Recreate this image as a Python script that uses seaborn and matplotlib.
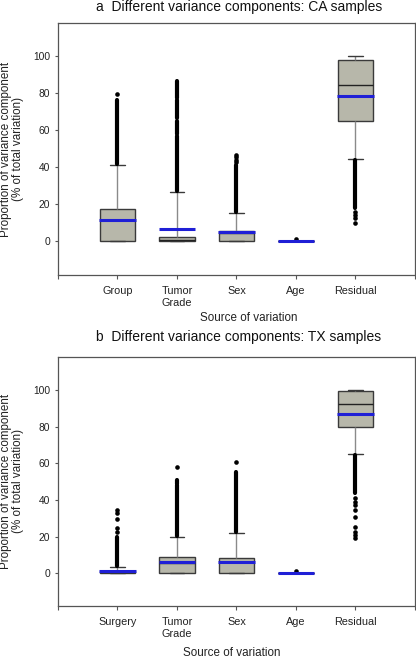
import numpy as np
import pandas as pd
import matplotlib
matplotlib.use("Agg")
import matplotlib.pyplot as plt
import seaborn as sns

# ---------------- data ----------------
title_a = "a  Different variance components: CA samples"
cats_a = ["Group", "Tumor\nGrade", "Sex", "Age", "Residual"]
wlo_a = [0.0, 0.0, 0.0, 0.0, 44.2]
q1_a = [0.0, 0.0, 0.0, 0.0, 64.7]
med_a = [11.2, 0.4, 4.4, 0.0, 84.3]
q3_a = [17.0, 1.8, 5.3, 0.0, 97.8]
whi_a = [40.9, 26.6, 14.9, 0.0, 100.0]
mean_a = [11.2, 6.3, 4.5, 0.0, 78.3]
# dense runs of outliers: (category index, low, high)
runs_a = [(0, 41.5, 76.5), (1, 27.2, 57.0), (1, 58.0, 65.0), (1, 66.5, 76.0),
          (1, 77.5, 86.4), (2, 15.5, 41.0), (4, 17.8, 43.6)]
# isolated outliers: (category index, value)
dots_a = [(0, 79.7), (2, 42.5), (2, 44.0), (2, 45.5), (2, 46.6), (3, 0.9),
          (4, 15.8), (4, 14.0), (4, 12.2), (4, 9.8)]

title_b = "b  Different variance components: TX samples"
cats_b = ["Surgery", "Tumor\nGrade", "Sex", "Age", "Residual"]
wlo_b = [0.0, 0.0, 0.0, 0.0, 65.1]
q1_b = [0.0, 0.0, 0.0, 0.0, 80.0]
med_b = [1.0, 5.9, 6.2, 0.0, 92.3]
q3_b = [1.4, 9.1, 8.5, 0.0, 99.6]
whi_b = [3.6, 20.0, 22.1, 0.0, 100.0]
mean_b = [1.25, 6.0, 6.3, 0.0, 87.1]
runs_b = [(0, 4.2, 20.0), (1, 20.6, 48.0), (1, 48.8, 50.9), (2, 22.7, 55.4),
          (4, 43.6, 64.5)]
dots_b = [(0, 22.7), (0, 24.5), (0, 29.5), (0, 33.1), (0, 34.5), (1, 58.2),
          (2, 60.9), (3, 1.5),
          (4, 40.9), (4, 39.1), (4, 37.3), (4, 34.5), (4, 30.9), (4, 25.1),
          (4, 22.7), (4, 20.9), (4, 19.1)]

yticks = [0, 20, 40, 60, 80, 100]
xlabel = "Source of variation"
ylabel = "Proportion of variance component\n(% of total variation)"

# ---------------- style ----------------
sns.set_style("ticks")
plt.rcParams["font.family"] = ["Liberation Sans", "DejaVu Sans"]

BOX = "#b7b7aa"
EDGE = "#3a3a3a"
WHISK = "#8a8a8a"
BLUE = "#1f1fd6"
SPINE = "#555555"

fig = plt.figure(figsize=(4.16, 6.59), dpi=100)


def panel(rect, title, title_y, cats, wlo, q1, med, q3, whi, mean, runs, dots,
          ylim, xlabel_xy):
    ax = fig.add_axes(rect)
    rows = []
    for c, a, b, m, d, e in zip(cats, wlo, q1, med, q3, whi):
        for v in (a, b, m, d, e):
            rows.append({"cat": c, "val": v})
    df = pd.DataFrame(rows)
    sns.boxplot(data=df, x="cat", y="val", order=cats, ax=ax, whis=(0, 100),
                width=0.6, color=BOX, saturation=1, linecolor=EDGE,
                linewidth=1.0, showfliers=False, capwidths=0.24,
                whiskerprops=dict(color=WHISK, linewidth=1.0),
                capprops=dict(color=EDGE, linewidth=1.0),
                medianprops=dict(color="#222222", linewidth=1.0),
                boxprops=dict(edgecolor=EDGE, linewidth=1.0))
    pos = np.arange(len(cats))
    ax.hlines(mean, pos - 0.31, pos + 0.31, color=BLUE, linewidth=2.2, zorder=4)
    rx = [r[0] for r in runs]
    rlo = [r[1] for r in runs]
    rhi = [r[2] for r in runs]
    ax.vlines(rx, rlo, rhi, color="black", linewidth=3.0, capstyle="round",
              zorder=3)
    sns.scatterplot(x=[d[0] for d in dots], y=[d[1] for d in dots], ax=ax,
                    color="black", s=11, linewidth=0, zorder=3)
    ax.set_xlim(-1, len(cats))
    ax.set_ylim(*ylim)
    ax.set_xticks(np.arange(-1, len(cats) + 1))
    ax.set_xticklabels([""] + cats + [""])
    ax.set_yticks(yticks)
    ax.set_yticklabels([str(t) for t in yticks])
    ax.tick_params(axis="x", length=3, width=0.8, color=SPINE, pad=5,
                   labelsize=7.8, labelcolor="#222222")
    ax.tick_params(axis="y", length=2.5, width=0.8, color=SPINE, pad=3,
                   labelsize=7.4, labelcolor="#222222")
    for s in ax.spines.values():
        s.set_visible(True)
        s.set_color(SPINE)
        s.set_linewidth(0.9)
    ax.set_xlabel(xlabel, fontsize=8.4, color="#222222", va="center")
    ax.xaxis.set_label_coords(*xlabel_xy)
    ax.set_ylabel(ylabel, fontsize=8.4, color="#222222", va="center",
                  linespacing=1.0)
    ax.yaxis.set_label_coords(-0.130, 0.5)
    fig.text(239 / 416, title_y, title, ha="center", va="center",
             fontsize=10, color="#111111")
    return ax


panel([58 / 416, 1 - 275 / 659, 357 / 416, 252 / 659], title_a, 1 - 6.5 / 659,
      cats_a, wlo_a, q1_a, med_a, q3_a, whi_a, mean_a, runs_a, dots_a,
      (-18.6, 118.0), (0.535, -0.171))
panel([58 / 416, 1 - 606 / 659, 357 / 416, 249.3 / 659], title_b,
      1 - 336.5 / 659,
      cats_b, wlo_b, q1_b, med_b, q3_b, whi_b, mean_b, runs_b, dots_b,
      (-17.8, 118.2), (0.487, -0.190))

fig.savefig("out.png", dpi=100)
